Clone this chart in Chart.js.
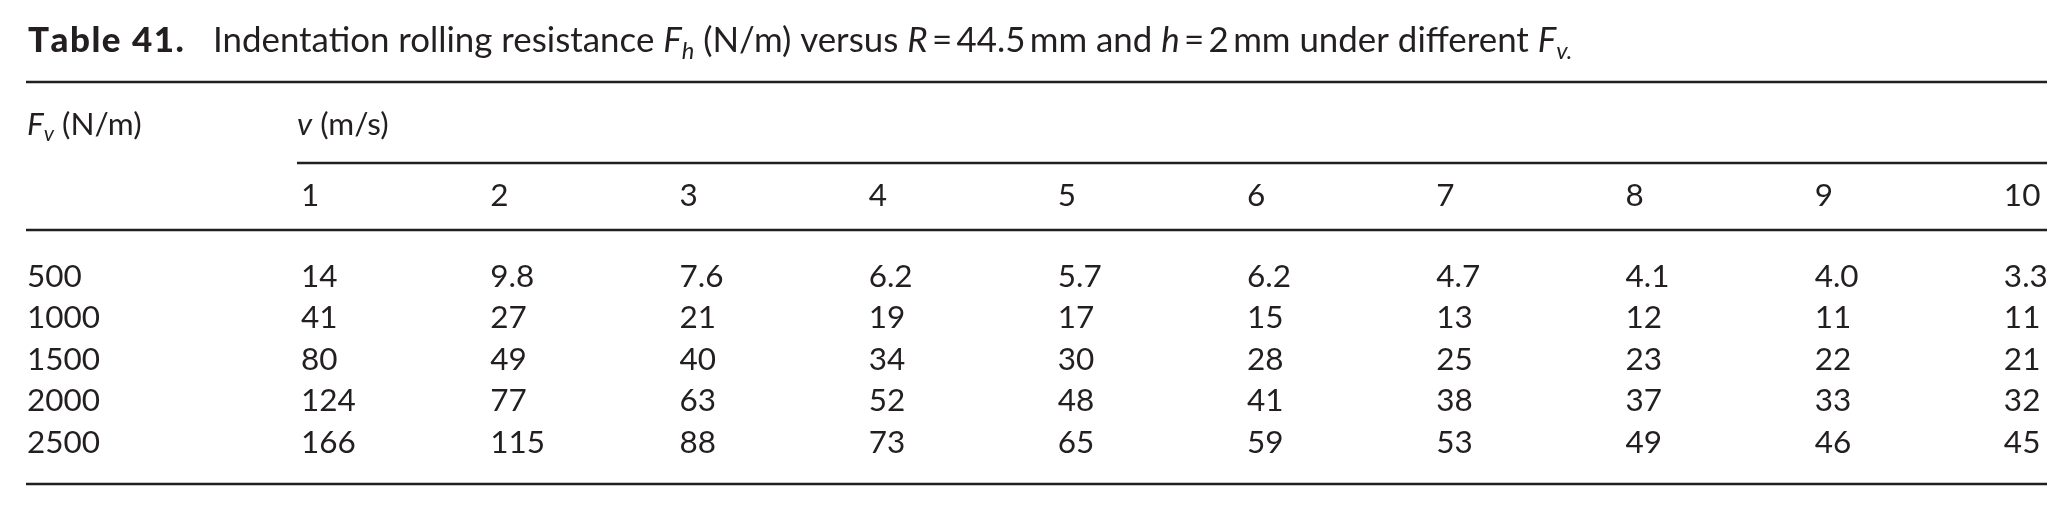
<!DOCTYPE html>
<html>
<head>
<meta charset="utf-8">
<script src="https://cdn.jsdelivr.net/npm/chart.js@4.4.1/dist/chart.umd.min.js"></script>
<style>
  html, body { margin: 0; padding: 0; background: #ffffff; }
  #wrap { width: 2072px; height: 511px; }
</style>
</head>
<body>
<div id="wrap"><canvas id="c" width="2072" height="511"></canvas></div>
<script>
// ---- data ----
const speeds = [1, 2, 3, 4, 5, 6, 7, 8, 9, 10];          // v (m/s)
const loads = [500, 1000, 1500, 2000, 2500];              // Fv (N/m)
const fh500  = [14, 9.8, 7.6, 6.2, 5.7, 6.2, 4.7, 4.1, 4.0, 3.3];
const fh1000 = [41, 27, 21, 19, 17, 15, 13, 12, 11, 11];
const fh1500 = [80, 49, 40, 34, 30, 28, 25, 23, 22, 21];
const fh2000 = [124, 77, 63, 52, 48, 41, 38, 37, 33, 32];
const fh2500 = [166, 115, 88, 73, 65, 59, 53, 49, 46, 45];
const series = [fh500, fh1000, fh1500, fh2000, fh2500];

// ---- styles / layout ----
const INK = '#231f20';
const FONT = 'Lato';
const BODY = 31.5;
const TITLE = 32;
const LABEL = 35;
const RULE_W = 2.5;
// title geometry (px, relative to the chart area's left edge)
const TITLE_LABEL_W = 152;   // width of the bold "Table 41."
const TITLE_TEXT_X = 185;    // where the caption text begins
const TITLE_TEXT_W = 1360;   // width of the caption text
// vertical slots in y-scale units (data rows sit at 1..5)
const SLOT = { title: -4.66, rule1: -3.94, head1: -2.66, rule2: -1.99, head2: -0.952, rule3: -0.373, rule4: 5.747 };

const titleLabel = 'Table 41.';
const titleSegs = [
  { t: 'Indentation rolling resistance ' },
  { t: 'F', i: true }, { t: 'h', i: true, sub: true },
  { t: ' (N/m) versus ' },
  { t: 'R', i: true }, { t: '\u2009=\u200944.5\u2009mm and ' },
  { t: 'h', i: true }, { t: '\u2009=\u20092\u2009mm under different ' },
  { t: 'F', i: true }, { t: 'v.', i: true, sub: true }
];
const headLoad = [{ t: 'F', i: true }, { t: 'v', i: true, sub: true }, { t: ' (N/m)' }];
const headSpeed = [{ t: 'v', i: true }, { t: ' (m/s)' }];

function fmt(v) { return v < 10 ? v.toFixed(1) : String(v); }

function segFont(s, size) {
  const sz = s.sub ? size * 0.68 : size;
  return (s.i ? 'italic ' : '') + (s.b ? 'bold ' : '') + sz + 'px ' + FONT;
}
function richWidth(ctx, segs, size) {
  let w = 0;
  for (const s of segs) { ctx.font = segFont(s, size); w += ctx.measureText(s.t).width; }
  return w;
}
function drawRich(ctx, x, y, segs, size) {
  ctx.textBaseline = 'alphabetic';
  ctx.textAlign = 'left';
  for (const s of segs) {
    ctx.font = segFont(s, size);
    ctx.fillText(s.t, x, y + (s.sub ? size * 0.2 : 0));
    x += ctx.measureText(s.t).width;
  }
}
function drawSpaced(ctx, x, y, text, font, targetW) {
  ctx.font = font;
  const chars = Array.from(text);
  const natural = ctx.measureText(text).width;
  const gap = chars.length > 1 ? (targetW - natural) / (chars.length - 1) : 0;
  for (const ch of chars) {
    ctx.fillText(ch, x, y);
    x += ctx.measureText(ch).width + gap;
  }
}

const tablePlugin = {
  id: 'tablePlugin',
  afterDatasetsDraw(chart) {
    const ctx = chart.ctx;
    const xs = chart.scales.x, ys = chart.scales.y;
    const left = chart.chartArea.left, right = chart.chartArea.right;
    const col0 = xs.getPixelForValue(speeds[0]);
    ctx.save();
    ctx.fillStyle = INK;
    ctx.strokeStyle = INK;
    ctx.lineWidth = RULE_W;
    const rule = (slot, x0) => {
      const y = ys.getPixelForValue(slot);
      ctx.beginPath(); ctx.moveTo(x0, y); ctx.lineTo(right, y); ctx.stroke();
    };
    rule(SLOT.rule1, left);
    rule(SLOT.rule2, col0 - 4);
    rule(SLOT.rule3, left);
    rule(SLOT.rule4, left);

    // title
    const ty = ys.getPixelForValue(SLOT.title);
    ctx.textBaseline = 'alphabetic';
    ctx.textAlign = 'left';
    drawSpaced(ctx, left + 2, ty, titleLabel, '900 ' + LABEL + 'px ' + FONT, TITLE_LABEL_W);
    const capSize = TITLE * TITLE_TEXT_W / richWidth(ctx, titleSegs, TITLE);
    drawRich(ctx, left + 2 + TITLE_TEXT_X, ty, titleSegs, capSize);

    drawRich(ctx, left + 1, ys.getPixelForValue(SLOT.head1), headLoad, BODY);
    drawRich(ctx, col0 - 4, ys.getPixelForValue(SLOT.head1), headSpeed, BODY);

    ctx.font = BODY + 'px ' + FONT;
    ctx.textAlign = 'left';
    ctx.textBaseline = 'alphabetic';
    speeds.forEach(v => {
      ctx.fillText(String(v), xs.getPixelForValue(v), ys.getPixelForValue(SLOT.head2));
    });
    chart.data.datasets.forEach((ds, di) => {
      const meta = chart.getDatasetMeta(di);
      ctx.fillText(String(loads[di]), left + 1, meta.data[0].y);
      meta.data.forEach((el, i) => {
        ctx.fillText(fmt(series[di][i]), el.x, el.y);
      });
    });
    ctx.restore();
  }
};

new Chart(document.getElementById('c'), {
  type: 'scatter',
  data: {
    datasets: series.map((vals, r) => ({
      label: String(loads[r]),
      data: vals.map((v, i) => ({ x: speeds[i], y: r + 1 })),
      pointRadius: 0,
      pointHoverRadius: 0
    }))
  },
  options: {
    responsive: false,
    animation: false,
    devicePixelRatio: 1,
    layout: { padding: { left: 26, right: 25, top: 0, bottom: 0 } },
    plugins: { legend: { display: false }, tooltip: { enabled: false } },
    scales: {
      x: { type: 'linear', display: false, min: -0.4535, max: 10.228 },
      y: { type: 'linear', display: false, reverse: true, min: -5.916, max: 6.398 }
    }
  },
  plugins: [tablePlugin]
});
</script>
</body>
</html>
